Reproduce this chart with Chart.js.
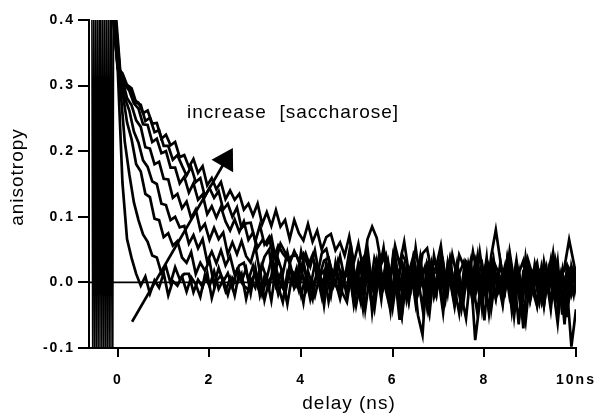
<!DOCTYPE html>
<html><head><meta charset="utf-8">
<script src="https://cdn.jsdelivr.net/npm/chart.js@4/dist/chart.umd.min.js"></script>
<style>html,body{margin:0;padding:0;background:#fff}#wrap{width:599px;height:413px}</style>
</head><body><div id="wrap"><canvas id="c" width="599" height="413"></canvas></div>
<script>
// delay channels (ns); two interleaved acquisition grids
const delayA=[-0.1,0,0.1,0.2,0.3,0.4,0.5,0.6,0.7,0.8,0.9,
1,1.1,1.2,1.3,1.4,1.5,1.6,1.7,1.8,1.9,2,2.1,2.2,2.3,2.4,2.5,2.6,2.7,2.8,2.9,
3,3.1,3.2,3.3,3.4,3.5,3.6,3.7,3.8,3.9,4,4.1,4.2,4.3,4.4,4.5,4.6,4.7,4.8,4.9,
5,5.1,5.2,5.3,5.4,5.5,5.6,5.7,5.8,5.9,6,6.1,6.2,6.3,6.4,6.5,6.6,6.7,6.8,6.9,
7,7.1,7.2,7.3,7.4,7.5,7.6,7.7,7.8,7.9,8,8.1,8.2,8.3,8.4,8.5,8.6,8.7,8.8,8.9,
9,9.1,9.2,9.3,9.4,9.5,9.6,9.7,9.8,9.9,10];
const delayB=[-0.05,0.05,0.15,0.25,0.35,0.45,0.55,0.65,0.75,0.85,0.95,
1.05,1.15,1.25,1.35,1.45,1.55,1.65,1.75,1.85,1.95,2.05,2.15,2.25,2.35,2.45,2.55,2.65,2.75,2.85,2.95,
3.05,3.15,3.25,3.35,3.45,3.55,3.65,3.75,3.85,3.95,4.05,4.15,4.25,4.35,4.45,4.55,4.65,4.75,4.85,4.95,
5.05,5.15,5.25,5.35,5.45,5.55,5.65,5.75,5.85,5.95,6.05,6.15,6.25,6.35,6.45,6.55,6.65,6.75,6.85,6.95,
7.05,7.15,7.25,7.35,7.45,7.55,7.65,7.75,7.85,7.95,8.05,8.15,8.25,8.35,8.45,8.55,8.65,8.75,8.85,8.95,
9.05,9.15,9.25,9.35,9.45,9.55,9.65,9.75,9.85,9.95,10.05];
// anisotropy traces, lowest to highest saccharose concentration
const trace1=[0.41,0.32,0.152,0.066,0.037,0.013,
-0.005,0.009,-0.017,0.003,-0.008,0.014,-0.02,0.002,-0.005,0.009,
-0.014,0.008,-0.003,-0.022,0.011,-0.006,0.017,-0.01,0.004,-0.019,0.007,-0.002,0.013,-0.025,0.005,
-0.008,0.021,-0.027,0.003,0.014,-0.018,0.006,-0.033,0.01,-0.004,0.024,-0.015,0.001,-0.021,0.009,0.018,-0.029,0.005,-0.011,0.016,
-0.022,0.012,-0.035,0.004,0.027,-0.009,-0.041,0.015,-0.003,0.031,
-0.018,0.006,-0.047,0.02,-0.01,0.002,0.034,-0.025,0.008,-0.014,
0.023,-0.038,0.011,-0.006,0.029,-0.02,-0.055,0.014,-0.088,-0.03,
0.019,-0.008,0.036,-0.016,-0.002,0.025,-0.044,0.009,-0.012,0.03,
-0.028,0.005,0.017,-0.036,0.021,-0.007,-0.062,0.013,0.026,-0.019,0.004];
const trace2=[0.395,0.300,0.215,0.165,0.122,0.095,
0.073,0.062,0.041,0.038,0.014,0.024,-0.001,0.023,0.005,0.013,
0.013,-0.015,0.004,-0.007,0.015,-0.024,0.002,0.011,-0.013,0.006,-0.02,0.016,-0.005,-0.011,0.008,
0.012,-0.019,0.007,-0.028,0.022,-0.003,-0.014,0.026,-0.009,0.004,-0.031,0.017,-0.006,0.011,-0.022,0.029,-0.012,0.002,-0.025,0.008,
0.015,-0.028,0.009,-0.04,0.021,-0.005,0.033,-0.017,0.002,-0.044,
0.026,-0.012,0.007,-0.031,0.018,-0.05,-0.08,0.024,-0.008,-0.021,
0.035,-0.014,0.004,-0.037,0.012,-0.026,0.028,-0.003,-0.048,0.019,
-0.009,0.031,-0.023,0.006,-0.015,0.038,-0.034,0.013,-0.07,0.022,
-0.006,0.017,-0.029,0.009,-0.041,0.027,-0.011,0.003,-0.024,0.014,-0.033];
const trace3=[0.42,0.328,0.291,0.244,0.218,0.18,
0.169,0.135,0.13,0.097,0.095,0.069,0.075,0.056,0.063,0.038,
0.03,0.046,0.013,0.03,0.018,0.033,-0.004,0.022,0.001,0.014,-0.008,0.018,0.001,0.021,-0.017,
0.023,-0.02,0.009,-0.01,0.029,-0.006,-0.03,0.015,-0.002,0.021,-0.019,0.009,-0.026,0.004,0.013,-0.035,0.02,-0.007,0.011,-0.016,
-0.03,0.018,-0.006,0.029,-0.041,0.011,-0.019,0.024,0.003,-0.027,
0.037,-0.015,-0.052,0.008,0.02,-0.033,0.014,-0.009,0.031,-0.022,
0.005,-0.046,0.026,-0.012,0.017,-0.038,0.002,0.033,-0.02,0.009,
-0.058,0.023,-0.004,0.015,-0.029,0.036,-0.013,0.007,-0.043,0.019,
-0.024,0.028,-0.006,-0.035,0.012,-0.018,0.032,-0.049,0.021,-0.003,0.01];
const trace4=[0.40,0.318,0.282,0.262,0.23,0.213,
0.186,0.176,0.154,0.15,0.12,0.118,0.095,0.1,0.084,0.086,
0.059,0.072,0.052,0.066,0.032,0.047,0.029,0.049,0.026,0.04,0.012,0.026,0.03,0.004,0.025,
-0.004,0.026,0.006,0.036,-0.005,0.013,-0.019,0.022,0.013,-0.012,0.028,-0.005,-0.026,0.021,0,0.013,-0.02,0.029,-0.01,0.007,
0.021,-0.034,0.007,-0.012,0.03,-0.045,0.016,-0.003,0.024,-0.029,
0.01,-0.057,0.021,-0.008,0.035,-0.018,0.004,-0.039,0.027,-0.014,
0.012,-0.026,0.033,-0.009,-0.047,0.018,0.006,-0.031,0.022,-0.016,
0.038,-0.04,0.013,-0.005,0.025,-0.022,0.009,-0.064,0.017,0.029,
-0.011,-0.036,0.02,-0.002,0.031,-0.027,0.008,-0.045,0.015,-0.019,0.026];
const trace5=[0.405,0.327,0.309,0.281,0.27,0.247,
0.237,0.206,0.204,0.18,0.184,0.158,0.157,0.129,0.135,0.113,
0.123,0.098,0.111,0.08,0.089,0.065,0.083,0.066,0.076,0.043,0.061,0.043,0.063,0.04,0.03,
0.055,0.015,0.039,0.05,0.002,0.035,0.013,0.046,0.016,0.002,0.047,0.015,-0.008,0.028,0.016,-0.017,0.029,0.002,0.032,-0.004,
-0.008,0.037,0.002,-0.03,0.021,0.01,-0.019,0.038,-0.006,0.024,
-0.038,0.012,0.028,-0.026,0.015,-0.002,0.039,-0.018,-0.049,0.018,
0.011,-0.031,0.029,-0.013,0.005,-0.039,0.022,-0.007,0.031,-0.025,
0.014,-0.047,0.018,0.002,-0.035,0.025,-0.01,0.034,-0.019,-0.06,
0.011,0.022,-0.028,0.006,-0.015,0.037,-0.032,0.014,-0.007,-0.098,-0.041];
const trace6=[0.415,0.324,0.302,0.292,0.273,0.265,
0.241,0.24,0.214,0.219,0.197,0.2,0.175,0.175,0.151,0.161,
0.137,0.151,0.126,0.134,0.104,0.116,0.099,0.115,0.093,0.079,0.096,0.077,0.093,0.065,0.076,
0.053,0.064,0.057,0.07,0.033,0.059,0.046,0.029,0.048,0.033,0.044,0.025,0.042,0.009,0.044,0.051,0.022,0.012,0.04,0.005,
0.046,-0.008,0.03,0.005,0.052,-0.006,0.021,-0.026,0.033,0.007,
0.042,-0.006,0.025,-0.024,0.037,0.008,-0.039,0.03,0.017,-0.018,
0.04,-0.004,0.023,-0.031,0.013,0.031,-0.014,-0.003,0.04,-0.039,
0.018,0.007,-0.025,0.031,-0.012,0.023,-0.051,0.014,0.033,-0.02,
0.008,-0.034,0.024,-0.008,0.034,-0.026,0.01,-0.064,0.02,0.005,-0.023];
const trace7=[0.40,0.326,0.319,0.301,0.296,0.274,
0.271,0.246,0.251,0.229,0.232,0.208,0.208,0.187,0.194,0.178,
0.163,0.176,0.153,0.159,0.131,0.144,0.129,0.139,0.111,0.12,0.1,0.114,0.083,0.09,0.091,
0.062,0.087,0.058,0.069,0.036,0.056,0.044,0.035,0.04,0.041,0.022,0.044,0.024,0.049,0.009,0.033,0.037,0.008,0.024,0.011,
0.01,0.048,-0.007,0.031,0.042,-0.013,0.037,0.016,0.053,-0.001,
0.025,-0.017,0.043,0.03,-0.007,0.053,0.002,0.023,-0.029,0.041,
0.007,0.031,-0.016,0.042,0.01,-0.025,0.032,0.023,-0.012,0.046,
-0.003,-0.042,0.032,0.016,-0.024,0.036,0.001,0.023,-0.035,0.038,
-0.012,0.009,-0.029,0.032,-0.005,0.044,-0.022,0.018,-0.053,0.025,0];
const trace8=[0.39,0.317,0.302,0.298,0.278,0.274,
0.258,0.262,0.242,0.243,0.219,0.225,0.209,0.214,0.191,0.194,
0.176,0.188,0.167,0.177,0.148,0.159,0.142,0.153,0.127,0.14,0.126,0.135,0.111,0.12,0.102,
0.12,0.089,0.107,0.086,0.11,0.085,0.095,0.066,0.095,0.075,0.064,0.089,0.062,0.079,0.05,0.069,0.074,0.049,0.061,0.041,
0.07,0.03,0.059,0.021,0.066,0.085,0.068,0.028,0.043,0.009,
0.056,0.027,0.062,0.014,0.04,-0.001,0.044,0.052,0.012,0.024,
0.056,0.001,0.036,-0.012,0.042,0.025,0.001,0.047,0.009,0.028,
-0.021,0.041,0.08,0.032,-0.011,0.047,0.002,0.019,-0.02,0.035,
0.011,0.03,-0.014,0.022,-0.033,0.035,0.003,0.024,0.065,0.03,-0.006];
// pre-zero excitation artefact (off-scale signal before t0)
const burstT=[-0.57,-0.55,-0.53,-0.51,-0.49,-0.47,-0.45,-0.43,-0.41,-0.39,-0.37,-0.35,-0.33,-0.31,-0.29,-0.27,-0.25,-0.23,-0.21,-0.19,-0.17,-0.15,-0.13,-0.11,-0.09];
const burstV=[0.45,-0.15,0.45,-0.15,0.45,-0.15,0.45,-0.15,0.45,-0.15,0.45,-0.15,0.45,-0.15,0.45,-0.15,0.45,-0.15,0.45,-0.15,0.45,-0.15,0.45,-0.15,0.45];
// zero baseline
const baselineT=[-0.63,10];
const baselineV=[0,0];
// axis ticks
const xTicks=[0,2,4,6,8,10];
const xTickLabels=['0','2','4','6','8','10ns'];
const yTicks=[-0.1,0,0.1,0.2,0.3,0.4];
const yTickLabels=['-0.1','0.0','0.1','0.2','0.3','0.4'];
// annotation
const arrowTail=[0.31,-0.06];
const arrowTip=[2.51,0.205];
const noteText='increase  [saccharose]';
const notePos=[1.51,0.2506];
const xTitle='delay (ns)';
const yTitle='anisotropy';

const traces=[trace1,trace2,trace3,trace4,trace5,trace6,trace7,trace8];
const FONT='"Liberation Sans", Arial, Helvetica, sans-serif';

const datasets=[];
datasets.push({data:baselineT.map((t,i)=>({x:t,y:baselineV[i]})),borderColor:'#000',borderWidth:1.6,pointRadius:0});
datasets.push({data:burstT.map((t,i)=>({x:t,y:burstV[i]})),borderColor:'#000',borderWidth:1.4,pointRadius:0});
traces.forEach((tr,k)=>{
  const grid=(k%2===0)?delayA:delayB;
  datasets.push({data:grid.map((t,i)=>({x:t,y:tr[i]})),borderColor:'#000',borderWidth:2.7,pointRadius:0,tension:0,borderJoinStyle:'miter'});
});

const deco={
  id:'deco',
  beforeLayout(chart){chart.ctx.letterSpacing='2px';},
  beforeDraw(chart){
    const ctx=chart.ctx;
    ctx.save();ctx.fillStyle='#fff';ctx.fillRect(0,0,chart.width,chart.height);ctx.restore();
    ctx.letterSpacing='2px';
  },
  afterDraw(chart){
    const ctx=chart.ctx,xs=chart.scales.x,ys=chart.scales.y;
    ctx.save();
    const x0=xs.getPixelForValue(arrowTail[0]),y0=ys.getPixelForValue(arrowTail[1]);
    const x1=xs.getPixelForValue(arrowTip[0]),y1=ys.getPixelForValue(arrowTip[1]);
    const dx=x1-x0,dy=y1-y0,L=Math.hypot(dx,dy),ux=dx/L,uy=dy/L;
    const hl=21,hw=12.5,bx=x1-ux*hl,by=y1-uy*hl;
    ctx.strokeStyle='#000';ctx.lineWidth=2.6;ctx.lineCap='butt';
    ctx.beginPath();ctx.moveTo(x0,y0);ctx.lineTo(bx+ux*3,by+uy*3);ctx.stroke();
    ctx.fillStyle='#000';ctx.beginPath();ctx.moveTo(x1,y1);
    ctx.lineTo(bx-uy*hw,by+ux*hw);ctx.lineTo(bx+uy*hw,by-ux*hw);ctx.closePath();ctx.fill();
    ctx.letterSpacing='1px';
    ctx.font='19px '+FONT;ctx.fillStyle='#000';
    ctx.textAlign='left';ctx.textBaseline='alphabetic';
    ctx.fillText(noteText,xs.getPixelForValue(notePos[0]),ys.getPixelForValue(notePos[1]));
    ctx.textAlign='center';ctx.textBaseline='middle';
    ctx.fillText(xTitle,349,404);
    ctx.translate(18,177);ctx.rotate(-Math.PI/2);
    ctx.fillText(yTitle,0,0);
    ctx.restore();
  }
};

const tickFont={family:FONT,size:14,weight:'bold'};
new Chart(document.getElementById('c'),{
  type:'line',
  data:{datasets},
  plugins:[deco],
  options:{
    responsive:false,animation:false,devicePixelRatio:1,
    layout:{padding:{left:0,right:0,top:20,bottom:0}},
    plugins:{legend:{display:false},tooltip:{enabled:false}},
    scales:{
      x:{type:'linear',min:-0.63,max:10,
        afterBuildTicks:s=>{s.ticks=xTicks.map(v=>({value:v}));},
        afterFit:s=>{s.height=65;s.paddingRight=23;s.paddingLeft=0;},
        ticks:{callback:(v,i)=>xTickLabels[i],color:'#000',font:tickFont,padding:15,maxRotation:0,autoSkip:false},
        grid:{drawOnChartArea:false,drawTicks:true,tickLength:9,color:'#000',lineWidth:2},
        border:{display:true,color:'#000',width:2}},
      y:{type:'linear',min:-0.1,max:0.4,
        afterBuildTicks:s=>{s.ticks=yTicks.map(v=>({value:v}));},
        afterFit:s=>{s.width=89;s.paddingTop=0;s.paddingBottom=0;},
        ticks:{callback:(v,i)=>yTickLabels[i],color:'#000',font:tickFont,padding:3,autoSkip:false},
        grid:{drawOnChartArea:false,drawTicks:true,tickLength:11,color:'#000',lineWidth:2},
        border:{display:true,color:'#000',width:2}}
    }
  }
});
</script></body></html>
